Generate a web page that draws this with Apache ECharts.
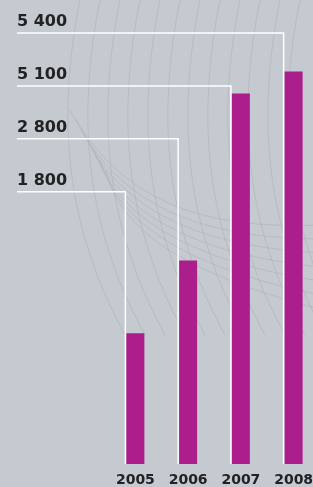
<!DOCTYPE html>
<html>
<head>
<meta charset="utf-8">
<script src="https://cdn.jsdelivr.net/npm/echarts@6/dist/echarts.min.js"></script>
<style>
html, body { margin: 0; padding: 0; background: #c5c9d0; }
#main { width: 313px; height: 487px; }
</style>
</head>
<body>
<div id="main"></div>
<script>
var years = ['2005', '2006', '2007', '2008'];
var values = [1800, 2800, 5100, 5400];
var valueLabels = ['1 800', '2 800', '5 100', '5 400'];

// leader rows: evenly spaced, highest value on top
var rowTop = 33;
var rowStep = 52.9;
var labelX = 17;

// faint decorative background curves
var deco = [];
for (var k = 0; k < 12; k++) {
    var x0 = 80 + k * 20;
    deco.push({
        type: 'bezierCurve',
        silent: true,
        z: -10,
        shape: { x1: x0, y1: 0, cpx1: x0 - 22, cpy1: 110, cpx2: x0 - 18, cpy2: 220, x2: x0 + 45, y2: 335 },
        style: { stroke: 'rgba(170,173,180,0.5)', lineWidth: 1, fill: null }
    });
}
for (var j = 0; j < 7; j++) {
    deco.push({
        type: 'bezierCurve',
        silent: true,
        z: -10,
        shape: { x1: 70 + j * 6, y1: 110 + j * 10, cpx1: 120, cpy1: 200 + j * 6, cpx2: 200, cpy2: 230 + j * 8, x2: 320, y2: 225 + j * 14 },
        style: { stroke: 'rgba(170,173,180,0.5)', lineWidth: 1, fill: null }
    });
}

var chart = echarts.init(document.getElementById('main'));

var option = {
    backgroundColor: '#c5c9d0',
    animation: false,
    graphic: deco,
    grid: { left: 109, width: 211, top: 28, bottom: 23, outerBoundsMode: 'none' },
    xAxis: {
        type: 'category',
        data: years,
        axisLine: { show: false },
        axisTick: { show: false },
        axisLabel: {
            margin: 9,
            color: '#222',
            fontFamily: 'DejaVu Sans',
            fontWeight: 'bold',
            fontSize: 14
        }
    },
    yAxis: {
        type: 'value',
        min: 0,
        max: 6000,
        show: false
    },
    series: [
        {
            type: 'custom',
            z: 1,
            data: values.map(function (v, i) { return [i, v]; }),
            renderItem: function (params, api) {
                var i = params.dataIndex;
                var base = api.coord([api.value(0), 0]);
                var left = base[0] - 10;
                var y = rowTop + (values.length - 1 - i) * rowStep;
                return {
                    type: 'group',
                    children: [
                        {
                            type: 'polyline',
                            shape: { points: [[labelX, y], [left, y], [left, base[1]]] },
                            style: { stroke: '#ffffff', lineWidth: 1.5, fill: null }
                        },
                        {
                            type: 'text',
                            x: labelX,
                            y: y - 3,
                            style: {
                                text: valueLabels[i],
                                fill: '#222',
                                font: 'bold 16px "DejaVu Sans"',
                                textAlign: 'left',
                                textVerticalAlign: 'bottom'
                            }
                        }
                    ]
                };
            }
        },
        {
            type: 'bar',
            z: 2,
            data: values,
            barWidth: 18,
            itemStyle: { color: '#ab1e8c' }
        }
    ]
};

chart.setOption(option);
</script>
</body>
</html>
